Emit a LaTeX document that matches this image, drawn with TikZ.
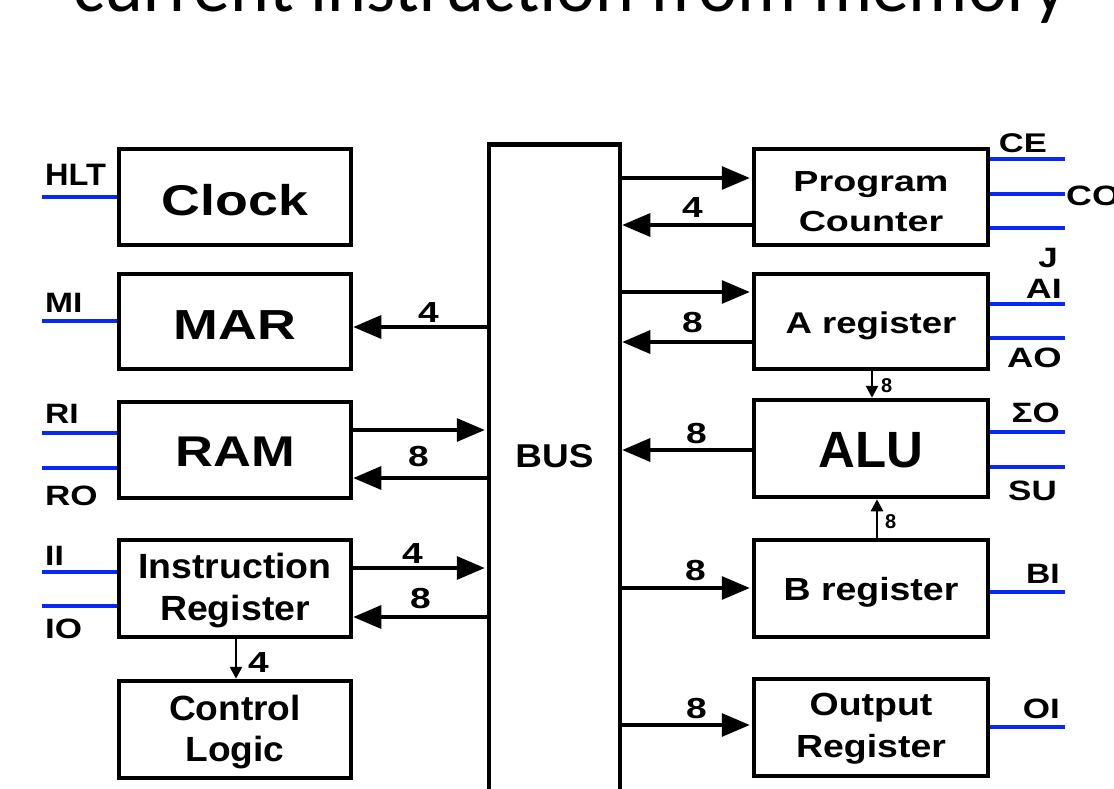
\documentclass[tikz,border=0pt]{standalone}
\usepackage{graphicx}
\usepackage{fontspec}
\setmainfont{Liberation Sans}
\newfontfamily\titlefont{Carlito}
\usetikzlibrary{arrows.meta}
\definecolor{sigblue}{RGB}{10,40,245}
% #1 x-stretch, #2 size, #3 line spacing, #4 text, #5 first baseline above node centre
\newcommand\btx[5]{\raisebox{#5}[0pt][0pt]{\scalebox{#1}[1]{\fontsize{#2}{#3}\selectfont\bfseries\begin{tabular}[t]{@{}c@{}}#4\end{tabular}}}}
\newcommand\lbl[3]{\scalebox{#1}[1]{\fontsize{#2}{#2}\selectfont\bfseries #3}}
\begin{document}
\begin{tikzpicture}[x=1pt,y=-1pt,
  box/.style={draw, line width=4.5pt, inner sep=0pt, minimum width=232pt, minimum height=96pt},
  rbox/.style={box, minimum width=234pt},
  bigarr/.style={line width=3.2pt, -{Triangle[length=28pt,width=23pt]}},
  smarr/.style={line width=2.6pt, -{Triangle[length=12pt,width=12pt]}},
  sig/.style={draw=sigblue, line width=4pt},
  lw/.style={inner sep=0pt, anchor=base west},
  le/.style={inner sep=0pt, anchor=base east},
]
\useasboundingbox (0,0) rectangle (1114,788);
% title
\node[anchor=base, inner sep=0pt] (title) at (570,11) {\titlefont\fontsize{74}{80}\selectfont current instruction from memory};
% left boxes
\node[box] (clock) at (235,197) {\btx{1.25}{43}{60}{Clock}{-18pt}};
\node[box, minimum height=95pt] (mar) at (235,321.5) {\btx{1.28}{42}{50}{MAR}{-18pt}};
\node[box] (ram) at (235,450) {\btx{1.22}{43}{60}{RAM}{-16pt}};
\node[box, minimum height=97pt] (ir) at (235,588.5) {\btx{1.07}{35}{42}{Instruction\\Register}{10pt}};
\node[box, minimum height=97pt] (cl) at (235,729.5) {\btx{1.06}{35}{41}{Control\\Logic}{9.5pt}};
% bus
\node[draw, line width=4.5pt, inner sep=0pt, minimum width=131pt, minimum height=700pt, anchor=north] (bus) at (554.5,142) {};
\node[inner sep=0pt, anchor=base] (bustxt) at (554.5,467) {\lbl{1.12}{33}{BUS}};
% right boxes
\node[rbox] (pc) at (871,197) {\btx{1.3}{29}{40}{Program\\Counter}{6pt}};
\node[rbox, minimum height=95pt] (areg) at (871,321.5) {\btx{1.22}{30}{45}{A register}{-12pt}};
\node[rbox, minimum height=97pt] (alu) at (871,448.5) {\btx{1.0}{51}{60}{ALU}{-18.5pt}};
\node[rbox, minimum height=97pt] (breg) at (871,588.5) {\btx{1.17}{32}{50}{B register}{-11.5pt}};
\node[rbox, minimum height=97pt] (oreg) at (871,727.5) {\btx{1.17}{32}{42}{Output\\Register}{12.5pt}};
% bus connections left
\draw[bigarr] (bus.west |- 0,327) -- (mar.east |- 0,327);
\draw[bigarr, shorten >=2pt] (ram.east |- 0,430) -- (bus.west |- 0,430);
\draw[bigarr] (bus.west |- 0,478) -- (ram.east |- 0,478);
\draw[bigarr, shorten >=2pt] (ir.east |- 0,568) -- (bus.west |- 0,568);
\draw[bigarr] (bus.west |- 0,617) -- (ir.east |- 0,617);
\draw[smarr] (ir.south -| 236,0) -- (cl.north -| 236,0);
% bus connections right
\draw[bigarr, shorten >=2pt] (bus.east |- 0,178) -- (pc.west |- 0,178);
\draw[bigarr] (pc.west |- 0,225) -- (bus.east |- 0,225);
\draw[bigarr, shorten >=2pt] (bus.east |- 0,292) -- (areg.west |- 0,292);
\draw[bigarr] (areg.west |- 0,342) -- (bus.east |- 0,342);
\draw[bigarr] (alu.west |- 0,450) -- (bus.east |- 0,450);
\draw[bigarr, shorten >=2pt] (bus.east |- 0,588) -- (breg.west |- 0,588);
\draw[bigarr, shorten >=2pt] (bus.east |- 0,725) -- (oreg.west |- 0,725);
\draw[smarr] (areg.south -| 872,0) -- (alu.north -| 872,0);
\draw[smarr] (breg.north -| 877,0) -- (alu.south -| 877,0);
% width labels
\node[lw] (n1) at (418,322) {\lbl{1.28}{29}{4}};
\node[lw] (n2) at (408,466) {\lbl{1.28}{29}{8}};
\node[lw] (n3) at (402,563) {\lbl{1.28}{29}{4}};
\node[lw] (n4) at (410,608) {\lbl{1.28}{29}{8}};
\node[lw] (n5) at (248,672) {\lbl{1.28}{29}{4}};
\node[lw] (n6) at (682,217) {\lbl{1.28}{29}{4}};
\node[lw] (n7) at (682,332) {\lbl{1.28}{29}{8}};
\node[lw] (n8) at (686,443) {\lbl{1.28}{29}{8}};
\node[lw] (n9) at (685,580) {\lbl{1.28}{29}{8}};
\node[lw] (n10) at (686,718) {\lbl{1.28}{29}{8}};
\node[lw] (n11) at (881,392) {\lbl{1.0}{20}{8}};
\node[lw] (n12) at (885,528) {\lbl{1.0}{20}{8}};
% control signals left
\draw[sig] (clock.west |- 0,197) -- ++(-75,0);
\draw[sig] (mar.west |- 0,321) -- ++(-75,0);
\draw[sig] (ram.west |- 0,433) -- ++(-75,0);
\draw[sig] (ram.west |- 0,468) -- ++(-75,0);
\draw[sig] (ir.west |- 0,572) -- ++(-75,0);
\draw[sig] (ir.west |- 0,606) -- ++(-75,0);
\node[lw] (sHLT) at (45,185) {\lbl{1.05}{31}{HLT}};
\node[lw] (sMI) at (45,312) {\lbl{1.2}{28}{MI}};
\node[lw] (sRI) at (45,423) {\lbl{1.2}{28}{RI}};
\node[lw] (sRO) at (45,505) {\lbl{1.25}{28}{RO}};
\node[lw] (sII) at (45,565) {\lbl{1.2}{28}{II}};
\node[lw] (sIO) at (45,638) {\lbl{1.25}{28}{IO}};
% control signals right
\draw[sig] (pc.east |- 0,159) -- ++(75,0);
\draw[sig] (pc.east |- 0,194) -- ++(75,0);
\draw[sig] (pc.east |- 0,228) -- ++(75,0);
\draw[sig] (areg.east |- 0,304) -- ++(75,0);
\draw[sig] (areg.east |- 0,338) -- ++(75,0);
\draw[sig] (alu.east |- 0,432) -- ++(75,0);
\draw[sig] (alu.east |- 0,467) -- ++(75,0);
\draw[sig] (breg.east |- 0,592) -- ++(75,0);
\draw[sig] (oreg.east |- 0,727) -- ++(75,0);
\node[le] (sCE) at (1047,152) {\lbl{1.28}{27}{CE}};
\node[lw] (sCO) at (1066,205) {\lbl{1.28}{28}{CO}};
\node[le] (sJ) at (1058,267) {\lbl{1.25}{28}{J}};
\node[le] (sAI) at (1062,298) {\lbl{1.28}{28}{AI}};
\node[le] (sAO) at (1062,367) {\lbl{1.3}{28}{AO}};
\node[le] (sSO) at (1060,422) {\lbl{1.25}{28}{ΣO}};
\node[le] (sSU) at (1057,500) {\lbl{1.25}{28}{SU}};
\node[le] (sBI) at (1060,583) {\lbl{1.2}{28}{BI}};
\node[le] (sOI) at (1060,718) {\lbl{1.25}{28}{OI}};
\end{tikzpicture}
\end{document}
